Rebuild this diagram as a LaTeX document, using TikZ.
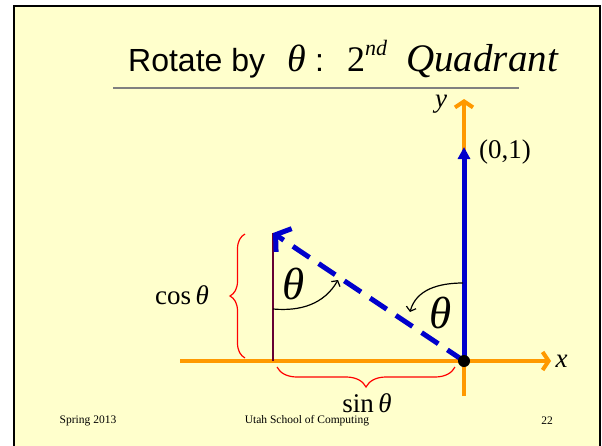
\documentclass[tikz,border=0pt]{standalone}
\usepackage{fontspec}
\setmainfont{Liberation Serif}
\newfontfamily\arialfont{Liberation Sans}
\usetikzlibrary{arrows.meta,positioning,decorations.pathreplacing}

\definecolor{slidebg}{RGB}{255,255,204}
\definecolor{axisorange}{RGB}{255,153,0}
\definecolor{vecblue}{RGB}{0,0,204}
\definecolor{linepurple}{RGB}{102,0,51}

\begin{document}
\begin{tikzpicture}[x=1pt,y=-1pt,
    axis/.style={axisorange, line width=4pt, -{Straight Barb[length=6pt,width=18pt]}},
    sidebrace/.style={red, line width=1.2pt, decorate, decoration={brace,amplitude=#1}},
    turn/.style={black, line width=1.2pt, -{Straight Barb[length=4pt,width=10pt]}},
    lbl/.style={font=\fontsize{27}{30}\selectfont},
    bigtheta/.style={font=\fontsize{45}{50}\selectfont\itshape},
    foot/.style={font=\fontsize{11.5}{13}\selectfont},
    piece/.style={anchor=base west, inner sep=0pt}]
    \useasboundingbox (0,0) rectangle (602,445);

    % slide
    \fill[white] (0,0) rectangle (602,445);
    \fill[slidebg] (14,6) rectangle (600,446);
    \draw[black, line width=2pt] (14,446) -- (14,6) -- (600,6) -- (600,446);

    % title
    \node[piece, font=\arialfont\fontsize{32}{36}\selectfont] (title) at (128,71) {Rotate by};
    \node[piece, font=\fontsize{38}{42}\selectfont\itshape] (titletheta) at (287,71) {θ};
    \node[piece, font=\arialfont\fontsize{32}{36}\selectfont] (colon) at (315,71) {:};
    \node[piece, font=\fontsize{36}{40}\selectfont] (two) at (347,71) {2};
    \node[piece, font=\fontsize{22}{24}\selectfont\itshape] (nd) at (365,55) {nd};
    \node[piece, font=\fontsize{39}{42}\selectfont\itshape] (quad) at (406,71) {Quadrant};
    \draw[gray, line width=2pt] (113,88) -- (519,88);

    \coordinate (O) at (464,361);
    \coordinate (xstart) at (180,361);
    \coordinate (xend) at (551,361);
    \coordinate (ystart) at (464,396);
    \coordinate (yend) at (464,99);
    \coordinate (up) at (464,147);
    \coordinate (rot) at (273,233);
    \coordinate (base) at (273,361);

    % axes
    \draw[axis] (xstart) -- (xend);
    \draw[axis] (ystart) -- (yend);
    \node[lbl, font=\fontsize{27}{30}\selectfont\itshape, right=1pt of xend] (xlabel) {x};
    \node[lbl, font=\fontsize{27}{30}\selectfont\itshape] (ylabel) at (441,104) {y};

    % vectors
    \draw[linepurple, line width=2pt] (base) -- (rot);
    \draw[vecblue, line width=5pt, -{Triangle[length=12pt,width=12pt]}] (O) -- (up);
    \draw[vecblue, line width=5pt, dash pattern=on 20pt off 11pt,
        -{Straight Barb[length=10pt,width=28pt]}] (O) -- (rot);
    \fill[black] (O) circle (6);
    \node[lbl] (unit) at (505,152) {(0,1)};

    % braces
    \draw[sidebrace=15] (245,358) -- (245,234);
    \draw[sidebrace=20] (455,367) -- (277,367);
    \node[lbl] (cos) at (182,295) {cos\,\itshape θ};
    \node[lbl] (sin) at (367,403) {sin\,\itshape θ};

    % angles
    \draw[turn] (273,309) to[out=-5, in=240] (338,280);
    \draw[turn] (463,283) to[out=180, in=75] (410,312);
    \node[bigtheta] (thetaL) at (294,284) {θ};
    \node[bigtheta] (thetaR) at (441,313) {θ};

    % footer
    \node[foot] (season) at (88,421) {Spring 2013};
    \node[foot] (school) at (307,421) {Utah School of Computing};
    \node[foot] (page) at (547,421) {22};
\end{tikzpicture}
\end{document}
